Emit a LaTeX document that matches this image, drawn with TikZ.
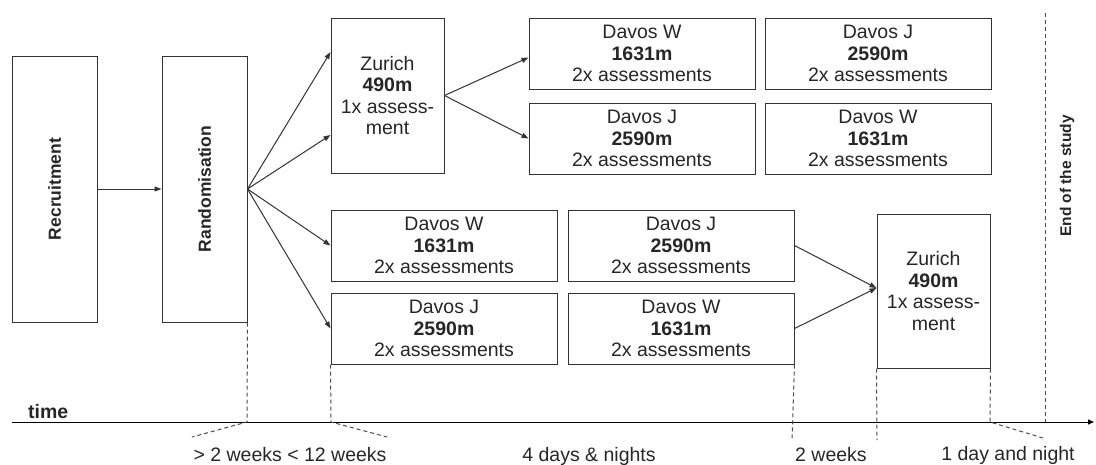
\documentclass[tikz,border=0pt]{standalone}
\usepackage{fontspec}
\setmainfont{Liberation Sans}
\usepackage{tikz}
\usetikzlibrary{positioning,arrows.meta}

\begin{document}
\begin{tikzpicture}[x=1pt,y=-1pt,
    box/.style={draw=black!80,line width=1pt,inner sep=0pt,align=center,text=black!85,
      font=\fontsize{19.5}{21.5}\selectfont,minimum width=226pt,minimum height=71pt},
    zbox/.style={box,minimum width=113pt,minimum height=155pt},
    vbox/.style={box,minimum width=85pt,minimum height=266pt},
    arr/.style={line width=1pt,draw=black!80,-{Triangle[length=7pt,width=5pt]}},
    dsh/.style={line width=1pt,draw=black!70,dash pattern=on 4pt off 3pt},
    lbl/.style={text=black!85,font=\fontsize{19.5}{21.5}\selectfont,inner sep=0pt}]
  \useasboundingbox (0,0) rectangle (1096,464);

  % recruitment and randomisation
  \node[vbox](rec) at (54.5,189){\rotatebox{90}{\fontsize{17.5}{20}\selectfont\bfseries Recruitment}};
  \node[vbox](rand) at (204.5,189){\rotatebox{90}{\fontsize{17.5}{20}\selectfont\bfseries Randomisation}};

  % first arm group: Zurich first
  \node[zbox](zur1) at (387.5,95.5){Zurich\\\textbf{490m}\\1x assess-\\ment};
  \node[box](dw1) at (642,53.5){Davos W\\\textbf{1631m}\\2x assessments};
  \node[box,below=13pt of dw1](dj1){Davos J\\\textbf{2590m}\\2x assessments};
  \node[box,right=9pt of dw1](dj2){Davos J\\\textbf{2590m}\\2x assessments};
  \node[box,right=9pt of dj1](dw2){Davos W\\\textbf{1631m}\\2x assessments};

  % second arm group: Zurich last
  \node[box](dw3) at (444,245.5){Davos W\\\textbf{1631m}\\2x assessments};
  \node[box,below=11pt of dw3](dj3){Davos J\\\textbf{2590m}\\2x assessments};
  \node[box,right=10pt of dw3](dj4){Davos J\\\textbf{2590m}\\2x assessments};
  \node[box,right=10pt of dj3](dw4){Davos W\\\textbf{1631m}\\2x assessments};
  \node[zbox,minimum height=154pt](zur2) at (933.5,291){Zurich\\\textbf{490m}\\1x assess-\\ment};

  \draw[arr] (rec) -- (rand);
  \draw[arr] (rand.east) -- ([yshift=43.5pt]zur1.west);
  \draw[arr] (rand.east) -- ([yshift=-39.5pt]zur1.west);
  \draw[arr] (rand.east) -- (dw3.west);
  \draw[arr] (rand.east) -- (dj3.west);
  \draw[arr] (zur1.east) -- ([yshift=-4pt]dw1.west);
  \draw[arr] (zur1.east) -- (dj1.west);
  \draw[arr] (dj4.east) -- ([yshift=3pt]zur2.west);
  \draw[arr] (dw4.east) -- ([yshift=3pt]zur2.west);

  % time line
  \coordinate (t0) at (12,422);
  \coordinate (tend) at (1094,422);
  \coordinate (t1) at (247,422);
  \coordinate (t2) at (331,422);
  \coordinate (t3) at (792,440);
  \coordinate (t4) at (877,440);
  \coordinate (t5) at (990,422);
  \coordinate (t6) at (1045,422);
  \coordinate (end) at (1045,13);
  \draw[line width=1pt,-{Triangle[length=6pt,width=5pt]}] (t0) -- (tend);
  \node[lbl,anchor=base west](time) at (28,418){\bfseries time};

  \draw[dsh] (rand.south east) -- (t1) -- (192,437);
  \draw[dsh] (dj3.south west) -- (t2) -- (387,437);
  \draw[dsh] (dw4.south east) -- (t3);
  \draw[dsh] (zur2.south west) -- (t4);
  \draw[dsh] (zur2.south east) -- (t5) -- (1043,438);
  \draw[dsh] (end) -- (t6);
  \node[lbl,rotate=90](eos) at (1067,176){\fontsize{15.5}{18}\selectfont\bfseries End of the study};

  \node[lbl](l1) at (290,455){> 2 weeks < 12 weeks};
  \node[lbl](l2) at (589,456){4 days \& nights};
  \node[lbl](l3) at (831,455){2 weeks};
  \node[lbl](l4) at (1008,455){1 day and night};
\end{tikzpicture}
\end{document}
